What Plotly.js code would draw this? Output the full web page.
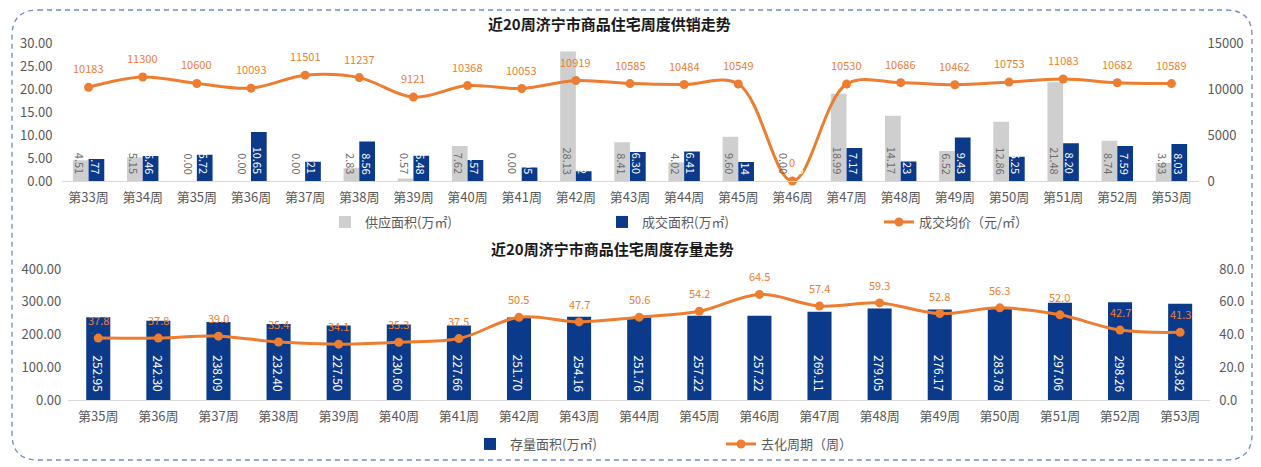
<!DOCTYPE html>
<html>
<head>
<meta charset="utf-8">
<script src="https://cdn.plot.ly/plotly-3.0.1.min.js"></script>
<style>
html,body{margin:0;padding:0;background:#fff;}
#chart{width:1261px;height:467px;}
</style>
</head>
<body>
<div id="chart"></div>
<script>
// ---- data: top chart (weekly supply / deal / price) ----
var weeksTop = ['第33周','第34周','第35周','第36周','第37周','第38周','第39周','第40周','第41周','第42周','第43周','第44周','第45周','第46周','第47周','第48周','第49周','第50周','第51周','第52周','第53周'];
var supplyArea = [4.51,5.15,0.00,0.00,0.00,2.83,0.57,7.62,0.00,28.13,8.41,4.02,9.60,0.00,18.99,14.17,6.52,12.86,21.48,8.74,3.93];
var dealArea = [4.77,5.46,5.72,10.65,4.21,8.56,5.48,4.57,2.95,2.12,6.30,6.41,4.14,0.00,7.17,4.23,9.43,5.25,8.20,7.59,8.03];
var avgPrice = [10183,11300,10600,10093,11501,11237,9121,10368,10053,10919,10585,10484,10549,0,10530,10686,10462,10753,11083,10682,10589];

// ---- data: bottom chart (stock / destocking period) ----
var weeksBottom = ['第35周','第36周','第37周','第38周','第39周','第40周','第41周','第42周','第43周','第44周','第45周','第46周','第47周','第48周','第49周','第50周','第51周','第52周','第53周'];
var stockArea = [252.95,242.30,238.09,232.40,227.50,230.60,227.66,251.70,254.16,251.76,257.22,257.22,269.11,279.05,276.17,283.78,297.06,298.26,293.82];
var destockPeriod = [37.8,37.8,39.0,35.4,34.1,35.3,37.5,50.5,47.7,50.6,54.2,64.5,57.4,59.3,52.8,56.3,52.0,42.7,41.3];

var titleTop = '近20周济宁市商品住宅周度供销走势';
var titleBottom = '近20周济宁市商品住宅周度存量走势';

// ---- styles ----
var FONT = '"Noto Sans CJK SC", "Microsoft YaHei", sans-serif';
var NAVY = '#0b3a8b';
var GREY = '#cfcfcf';
var ORANGE = '#ED7D31';
var TXT = '#595959';
var BARGAP = 0.42;
var half = (1 - BARGAP) / 4; // center offset of each bar in a 2-bar group

var traces = [
  {type:'bar', name:'供应面积(万㎡)', x:weeksTop, y:supplyArea, xaxis:'x', yaxis:'y',
   marker:{color:GREY}, legend:'legend', hoverinfo:'skip'},
  {type:'bar', name:'成交面积(万㎡)', x:weeksTop, y:dealArea, xaxis:'x', yaxis:'y',
   marker:{color:NAVY}, legend:'legend', hoverinfo:'skip'},
  {type:'scatter', mode:'lines+markers', name:'成交均价（元/㎡）', x:weeksTop, y:avgPrice,
   xaxis:'x', yaxis:'y2', line:{color:ORANGE, width:3, shape:'spline', smoothing:1},
   marker:{color:ORANGE, size:9}, cliponaxis:false, legend:'legend', hoverinfo:'skip'},
  {type:'bar', name:'存量面积(万㎡)', x:weeksBottom, y:stockArea, xaxis:'x2', yaxis:'y3',
   width:0.4, marker:{color:NAVY}, legend:'legend2', hoverinfo:'skip'},
  {type:'scatter', mode:'lines+markers', name:'去化周期（周）', x:weeksBottom, y:destockPeriod,
   xaxis:'x2', yaxis:'y4', line:{color:ORANGE, width:3, shape:'spline', smoothing:1},
   marker:{color:ORANGE, size:9}, cliponaxis:false, legend:'legend2', hoverinfo:'skip'}
];

var ann = [];
// bar value labels (rotated, anchored at bar base)
supplyArea.forEach(function(v,i){
  ann.push({xref:'x', yref:'y', x:i-half, y:0, text:v.toFixed(2), showarrow:false,
    textangle:90, xanchor:'center', yanchor:'bottom', yshift:5,
    font:{family:FONT, size:11, color:'#6b6b6b'}});
});
dealArea.forEach(function(v,i){
  ann.push({xref:'x', yref:'y', x:i+half, y:0, text:v.toFixed(2), showarrow:false,
    textangle:90, xanchor:'center', yanchor:'bottom', yshift:5,
    font:{family:FONT, size:11, color:'#ffffff'}});
});
avgPrice.forEach(function(v,i){
  ann.push({xref:'x', yref:'y2', x:i, y:v, text:String(v), showarrow:false,
    xanchor:'center', yanchor:'middle', yshift:19,
    font:{family:FONT, size:11, color:ORANGE}});
});
stockArea.forEach(function(v,i){
  ann.push({xref:'x2', yref:'y3', x:i, y:0, text:v.toFixed(2), showarrow:false,
    textangle:90, xanchor:'center', yanchor:'bottom', yshift:6,
    font:{family:FONT, size:12, color:'#ffffff'}});
});
destockPeriod.forEach(function(v,i){
  ann.push({xref:'x2', yref:'y4', x:i, y:v, text:v.toFixed(1), showarrow:false,
    xanchor:'center', yanchor:'middle', yshift:18,
    font:{family:FONT, size:11, color:ORANGE}});
});
// titles
ann.push({xref:'paper', yref:'paper', x:609/1261, y:1-23/467, text:'<b>'+titleTop+'</b>', showarrow:false,
  xanchor:'center', yanchor:'middle', font:{family:FONT, size:15, color:'#1a1a1a'}});
ann.push({xref:'paper', yref:'paper', x:612/1261, y:1-248/467, text:'<b>'+titleBottom+'</b>', showarrow:false,
  xanchor:'center', yanchor:'middle', font:{family:FONT, size:15, color:'#1a1a1a'}});

// dashed rounded border
var x0=12/1261, x1=1252/1261, y0=1-460/467, y1=1-10/467, rx=26/1261, ry=26/467;
var borderPath = 'M'+(x0+rx)+','+y1+' L'+(x1-rx)+','+y1+' Q'+x1+','+y1+' '+x1+','+(y1-ry)+
  ' L'+x1+','+(y0+ry)+' Q'+x1+','+y0+' '+(x1-rx)+','+y0+' L'+(x0+rx)+','+y0+
  ' Q'+x0+','+y0+' '+x0+','+(y0+ry)+' L'+x0+','+(y1-ry)+' Q'+x0+','+y1+' '+(x0+rx)+','+y1+' Z';

var tickFont = {family:FONT, size:13, color:TXT};
var yBase = {showgrid:false, zeroline:false, showline:false, ticks:'', tickfont:tickFont, fixedrange:true};
function clone(o, extra){ var r={}; for(var k in o) r[k]=o[k]; for(var k2 in extra) r[k2]=extra[k2]; return r; }

var layout = {
  width:1261, height:467,
  margin:{l:0, r:0, t:0, b:0},
  paper_bgcolor:'#ffffff', plot_bgcolor:'rgba(0,0,0,0)',
  font:{family:FONT, color:TXT},
  barmode:'group', bargap:BARGAP, bargroupgap:0,
  showlegend:true,
  xaxis:{domain:[61.5/1261, 1198.5/1261], anchor:'y', type:'category', range:[-0.5, weeksTop.length-0.5],
    autorange:false, showline:true, linecolor:'#d9d9d9',
    linewidth:1, ticks:'', showgrid:false, tickfont:tickFont, ticklabelstandoff:4},
  yaxis:clone(yBase, {domain:[1-181/467, 1-43/467], anchor:'x', range:[0,30], dtick:5, tickformat:'.2f', ticklabelstandoff:8}),
  yaxis2:clone(yBase, {overlaying:'y', side:'right', anchor:'x', range:[0,15000], dtick:5000, tickformat:'d', ticklabelstandoff:8}),
  xaxis2:{domain:[68.2/1261, 1210.2/1261], anchor:'y3', type:'category', range:[-0.5, weeksBottom.length-0.5],
    autorange:false, showline:true, linecolor:'#d9d9d9',
    linewidth:1, ticks:'', showgrid:false, tickfont:tickFont, ticklabelstandoff:4},
  yaxis3:clone(yBase, {domain:[1-400/467, 1-269/467], anchor:'x2', range:[0,400], dtick:100, tickformat:'.2f', ticklabelstandoff:6}),
  yaxis4:clone(yBase, {overlaying:'y3', side:'right', anchor:'x2', range:[0,80], dtick:20, tickformat:'.1f', ticklabelstandoff:8}),
  legend:{orientation:'h', x:325/1261, xanchor:'left', y:1-222/467, yanchor:'middle',
    font:{family:FONT, size:13, color:TXT}, entrywidth:232, entrywidthmode:'pixels',
    bgcolor:'rgba(0,0,0,0)', traceorder:'normal'},
  legend2:{orientation:'h', x:470/1261, xanchor:'left', y:1-444/467, yanchor:'middle',
    font:{family:FONT, size:13, color:TXT}, entrywidth:206, entrywidthmode:'pixels',
    bgcolor:'rgba(0,0,0,0)', traceorder:'normal'},
  annotations:ann,
  shapes:[{type:'path', xref:'paper', yref:'paper', path:borderPath,
    line:{color:'#6f8cc4', width:1.3, dash:'5px,4px'}, fillcolor:'rgba(0,0,0,0)', layer:'above'}]
};

Plotly.newPlot('chart', traces, layout, {staticPlot:true, displayModeBar:false});
</script>
</body>
</html>
